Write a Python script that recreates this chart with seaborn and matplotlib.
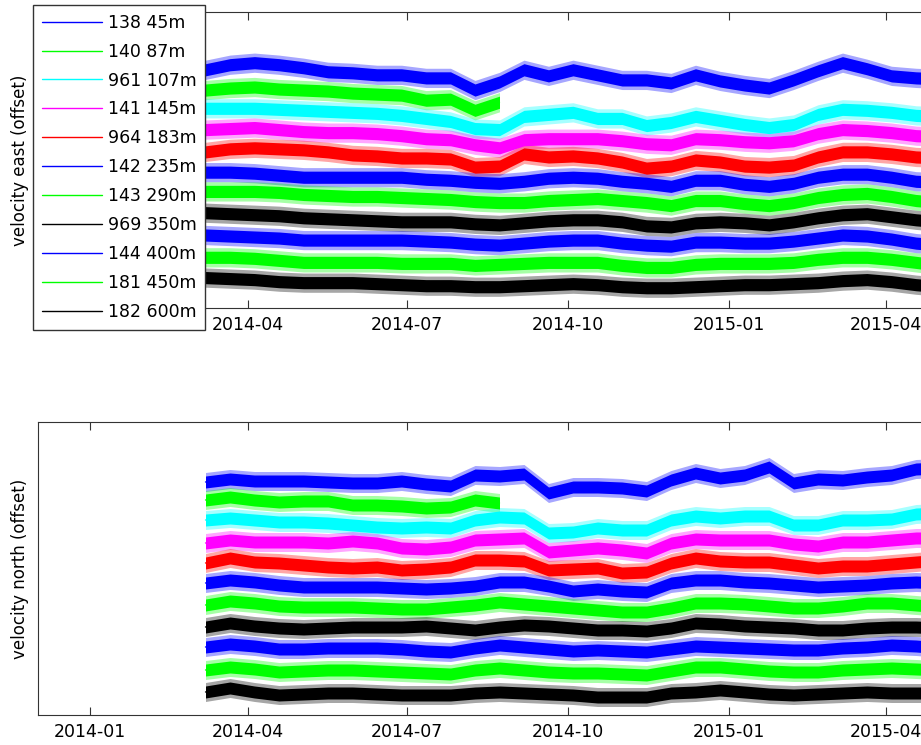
import numpy as np
import pandas as pd
import seaborn as sns
import matplotlib.pyplot as plt
import matplotlib.dates as mdates

sensors = ['138 45m', '140 87m', '961 107m', '141 145m', '964 183m', '142 235m',
           '143 290m', '969 350m', '144 400m', '181 450m', '182 600m']
colors = ['#0000ff', '#00ff00', '#00ffff', '#ff00ff', '#ff0000', '#0000ff',
          '#00ff00', '#000000', '#0000ff', '#00ff00', '#000000']
palette = dict(zip(sensors, colors))

# samples every two weeks (smoothed level)
dates = pd.date_range('2014-03-08', periods=31, freq='14D')
offset_step = 21   # each record shifted down by this much

# east velocity, deviation from each record's own offset
east = {
    '138 45m':  [-3, 2, 4, 2, -1, -5, -6, -8, -8, -11, -11, -23, -15, -3, -9, -3, -8, -13, -13, -16, -8, -14, -18, -21, -13, -4, 4, -2, -9, -11, -12],
    '140 87m':  [-2, 0, 1, -1, -2, -3, -5, -6, -7, -12, -11, -22, -14],
    '961 107m': [1, 1, 1, 0, -1, -2, -3, -4, -6, -9, -12, -19, -20, -7, -5, -3, -9, -9, -16, -13, -7, -11, -15, -18, -15, -5, 0, -1, -3, -6, -7],
    '141 145m': [1, 2, 3, 1, -1, -2, -2, -3, -5, -8, -9, -14, -17, -9, -8, -8, -8, -10, -13, -14, -8, -9, -11, -12, -10, -3, 1, 0, -2, -5, -6],
    '964 183m': [0, 3, 4, 3, 2, 0, -3, -4, -6, -6, -7, -15, -14, -2, -5, -4, -6, -10, -16, -14, -8, -10, -14, -15, -13, -5, 0, 0, -2, -5, -6],
    '142 235m': [1, 1, 0, -2, -4, -4, -4, -4, -4, -6, -7, -9, -10, -8, -5, -4, -5, -8, -10, -13, -7, -7, -11, -13, -10, -4, -1, -1, -4, -8, -9],
    '143 290m': [3, 3, 3, 2, 0, -1, -2, -2, -3, -4, -5, -7, -8, -8, -6, -5, -4, -6, -8, -11, -6, -6, -9, -11, -8, -3, 0, 1, -2, -6, -8],
    '969 350m': [3, 2, 1, 0, -2, -3, -4, -5, -6, -6, -6, -8, -9, -7, -5, -4, -4, -6, -10, -11, -7, -6, -7, -9, -6, -2, 1, 2, -1, -4, -6],
    '144 400m': [2, 1, 0, -1, -3, -3, -3, -3, -3, -4, -5, -7, -8, -6, -4, -3, -3, -6, -8, -9, -5, -5, -6, -6, -4, -1, 2, 1, -2, -6, -8],
    '181 450m': [1, 1, 0, -2, -4, -4, -4, -4, -5, -5, -5, -7, -6, -5, -4, -4, -4, -7, -9, -9, -6, -5, -5, -5, -4, -1, 1, 1, -1, -4, -7],
    '182 600m': [2, 1, 0, -2, -3, -3, -3, -4, -5, -6, -6, -7, -7, -6, -5, -4, -5, -7, -8, -8, -7, -6, -5, -5, -4, -3, -1, 0, -2, -5, -7],
}

# north velocity
north = {
    '138 45m':  [0, 3, 1, 1, 1, 0, -1, -1, 1, -2, -4, 7, 6, 8, -11, -5, -5, -6, -9, 2, 9, 4, 7, 15, -1, 3, 2, 5, 7, 13, 14],
    '140 87m':  [3, 6, 3, 1, 2, 2, -2, -2, -3, -5, -4, 3, 0],
    '961 107m': [4, 6, 4, 2, 2, 1, -1, -3, -4, -3, -4, 4, 7, 6, -9, -8, -4, -6, -6, 4, 8, 6, 8, 8, -1, -1, 4, 4, 5, 10, 11],
    '141 145m': [2, 5, 3, 3, 3, 2, 4, 2, -3, -4, -2, 5, 6, 7, -7, -5, -3, -5, -8, 2, 6, 5, 5, 5, 1, -1, 3, 3, 5, 7, 7],
    '964 183m': [3, 8, 4, 3, 1, -1, -2, -1, -4, -3, -1, 6, 6, 5, -4, -3, -2, -7, -6, 3, 8, 5, 4, 4, 1, -2, 0, 0, 2, 4, 6],
    '142 235m': [4, 7, 5, 2, 0, 0, 0, 0, -1, -2, -1, 1, 5, 5, 1, -4, -2, -4, -5, 4, 7, 7, 5, 4, 2, 0, 1, 2, 4, 5, 4],
    '143 290m': [3, 7, 5, 2, 1, 1, 1, 0, -1, -1, 1, 3, 6, 4, 2, 0, -2, -4, -4, 0, 5, 5, 4, 2, 0, 0, 2, 5, 5, 3, 1],
    '969 350m': [2, 6, 3, 1, 0, 1, 2, 2, 2, 3, 1, -1, 2, 4, 3, 1, -1, -1, -2, 1, 6, 5, 3, 2, 1, -1, -1, 1, 2, 2, 1],
    '144 400m': [3, 6, 4, 1, 1, 2, 2, 2, 1, -1, -2, 2, 5, 3, 1, -1, 0, -1, -2, 1, 4, 3, 2, 1, 0, 0, 2, 3, 5, 4, 2],
    '181 450m': [1, 4, 2, -1, 0, 1, 1, 0, -1, -2, -3, 1, 3, 1, -1, -2, -2, -3, -4, 0, 4, 4, 2, 0, -1, -1, 1, 2, 3, 2, 1],
    '182 600m': [0, 4, 0, -3, -2, -1, -1, -2, -3, -3, -3, -1, 0, -1, -2, -3, -5, -5, -5, -1, 0, 2, 0, -2, -3, -2, -1, 0, -1, -1, -1],
}

core = 6.0    # solid part of the noise band
spike = 9.5   # pale fringe from the spikes


def long_form(records):
    rows = []
    for name, vals in records.items():
        i = sensors.index(name)
        for d, v in zip(dates, vals):
            y = v - offset_step * i
            rows.append((d, name, y - core))
            rows.append((d, name, y + core))
    return pd.DataFrame(rows, columns=['date', 'sensor', 'vel'])


sns.set_style('white')
plt.rcParams['font.family'] = ['DejaVu Sans']
plt.rcParams['text.color'] = 'black'
plt.rcParams['axes.labelcolor'] = 'black'

fig = plt.figure(figsize=(9.21, 7.45), dpi=100)
W, H = 921.0, 745.0
x0 = pd.Timestamp('2013-12-02')
x1 = pd.Timestamp('2015-05-10')
ax1 = fig.add_axes([37.5 / W, 1 - 308 / H, 917 / W, 296 / H])
ax2 = fig.add_axes([37.5 / W, 1 - 715 / H, 917 / W, 293 / H])

panels = [(ax1, east, 'velocity east (offset)', (-238, 54)),
          (ax2, north, 'velocity north (offset)', (-233, 60))]

for ax, rec, ylab, ylim in panels:
    for name, vals in rec.items():
        i = sensors.index(name)
        y = np.array(vals, dtype=float) - offset_step * i
        d = dates[:len(vals)]
        ax.fill_between(d, y - spike, y + spike, color=palette[name], alpha=0.35, lw=0)
    sns.lineplot(data=long_form(rec), x='date', y='vel', hue='sensor',
                 hue_order=sensors, palette=palette,
                 errorbar=lambda v: (v.min(), v.max()),
                 err_kws={'alpha': 1, 'linewidth': 0},
                 linewidth=1, ax=ax, legend=(ax is ax1))
    ax.set_xlim(x0, x1)
    ax.set_ylim(*ylim)
    ax.set_yticks([])
    ax.set_xlabel('')
    ax.set_ylabel(ylab, fontsize=12, labelpad=6, color='black')
    ax.xaxis.set_major_locator(mdates.MonthLocator(bymonth=[1, 4, 7, 10]))
    ax.xaxis.set_major_formatter(mdates.DateFormatter('%Y-%m'))
    ax.tick_params(axis='x', direction='in', length=6, width=0.8, top=True,
                   bottom=True, labelsize=12.5, pad=6, color='0.2',
                   labelcolor='black')
    for s in ax.spines.values():
        s.set_linewidth(0.8)
        s.set_color('0.2')

handles, labels = ax1.get_legend_handles_labels()
ax1.get_legend().remove()
leg = fig.legend(handles, labels, loc='upper left', bbox_to_anchor=(33 / W, 1 - 5 / H),
                 frameon=True, fancybox=False, edgecolor='0.2', framealpha=1,
                 fontsize=12.5, handlelength=3.45, labelspacing=0.63, borderpad=0.5,
                 handletextpad=0.35, borderaxespad=0)
for t in leg.get_texts():
    t.set_color('black')

fig.savefig('out.png', dpi=100)
